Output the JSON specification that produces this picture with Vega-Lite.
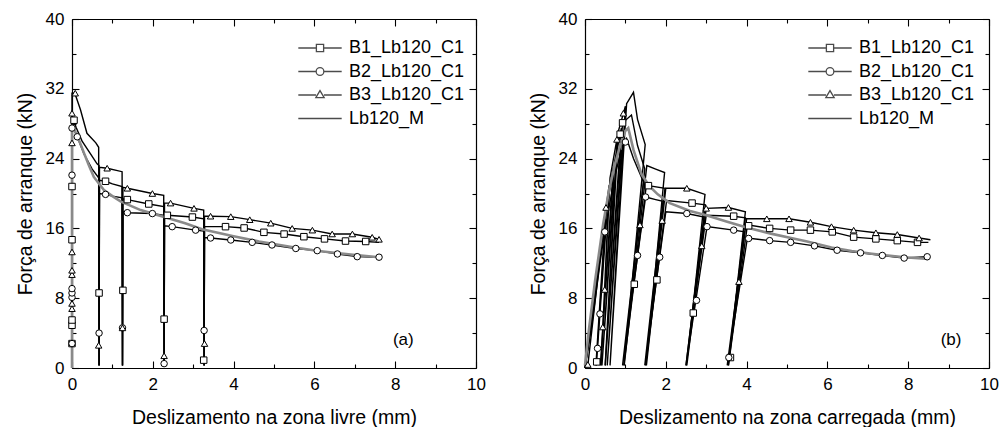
{
  "$schema": "https://vega.github.io/schema/vega-lite/v6.json",
  "background": "white",
  "padding": {"left": 15, "top": 10, "right": 0, "bottom": 0},
  "spacing": 42,
  "config": {
    "font": "Liberation Sans",
    "view": {"stroke": null},
    "axis": {"domainColor": "black", "domainWidth": 1.2, "tickColor": "black", "tickWidth": 1.1, "labelColor": "black", "titleColor": "black", "labelFont": "Liberation Sans", "titleFont": "Liberation Sans", "labelFontSize": 17, "titleFontSize": 19.5, "titleFontWeight": "normal", "grid": false, "labelFlush": false, "labelOverlap": false}
  },
  "datasets": {
    "la": [
      {"k":"B1_Lb120_C1","x":0,"y":0},{"k":"B1_Lb120_C1","x":0,"y":28.8},{"k":"B1_Lb120_C1","x":0.03,"y":28.6},{"k":"B1_Lb120_C1","x":0.1,"y":27.6},{"k":"B1_Lb120_C1","x":0.25,"y":26.0},{"k":"B1_Lb120_C1","x":0.45,"y":24.6},{"k":"B1_Lb120_C1","x":0.62,"y":23.4},{"k":"B1_Lb120_C1","x":0.67,"y":23.2},{"k":"B1_Lb120_C1","x":0.67,"y":0.3},{"k":"B1_Lb120_C1","x":0.68,"y":21.5},{"k":"B1_Lb120_C1","x":0.83,"y":21.4},{"k":"B1_Lb120_C1","x":1.0,"y":21.1},{"k":"B1_Lb120_C1","x":1.24,"y":20.8},{"k":"B1_Lb120_C1","x":1.25,"y":0.3},{"k":"B1_Lb120_C1","x":1.26,"y":19.4},{"k":"B1_Lb120_C1","x":1.37,"y":19.3},{"k":"B1_Lb120_C1","x":1.9,"y":18.8},{"k":"B1_Lb120_C1","x":2.27,"y":18.5},{"k":"B1_Lb120_C1","x":2.28,"y":0.3},{"k":"B1_Lb120_C1","x":2.29,"y":17.6},{"k":"B1_Lb120_C1","x":2.36,"y":17.5},{"k":"B1_Lb120_C1","x":2.98,"y":17.3},{"k":"B1_Lb120_C1","x":3.26,"y":17.1},{"k":"B1_Lb120_C1","x":3.27,"y":0.3},{"k":"B1_Lb120_C1","x":3.28,"y":16.2},{"k":"B1_Lb120_C1","x":3.8,"y":16.2},{"k":"B1_Lb120_C1","x":4.26,"y":16.05},{"k":"B1_Lb120_C1","x":4.75,"y":15.55},{"k":"B1_Lb120_C1","x":5.25,"y":15.35},{"k":"B1_Lb120_C1","x":5.74,"y":15.05},{"k":"B1_Lb120_C1","x":6.25,"y":14.8},{"k":"B1_Lb120_C1","x":6.77,"y":14.55},{"k":"B1_Lb120_C1","x":7.27,"y":14.5},{"k":"B1_Lb120_C1","x":7.6,"y":14.4},
      {"k":"B2_Lb120_C1","x":0,"y":0},{"k":"B2_Lb120_C1","x":0,"y":27.5},{"k":"B2_Lb120_C1","x":0.05,"y":27.3},{"k":"B2_Lb120_C1","x":0.13,"y":26.5},{"k":"B2_Lb120_C1","x":0.3,"y":24.5},{"k":"B2_Lb120_C1","x":0.5,"y":22.8},{"k":"B2_Lb120_C1","x":0.66,"y":21.8},{"k":"B2_Lb120_C1","x":0.67,"y":0.3},{"k":"B2_Lb120_C1","x":0.68,"y":20.0},{"k":"B2_Lb120_C1","x":0.83,"y":19.9},{"k":"B2_Lb120_C1","x":1.0,"y":19.7},{"k":"B2_Lb120_C1","x":1.24,"y":19.5},{"k":"B2_Lb120_C1","x":1.25,"y":0.3},{"k":"B2_Lb120_C1","x":1.26,"y":17.9},{"k":"B2_Lb120_C1","x":1.37,"y":17.8},{"k":"B2_Lb120_C1","x":1.99,"y":17.7},{"k":"B2_Lb120_C1","x":2.27,"y":17.5},{"k":"B2_Lb120_C1","x":2.28,"y":0.3},{"k":"B2_Lb120_C1","x":2.29,"y":16.3},{"k":"B2_Lb120_C1","x":2.48,"y":16.2},{"k":"B2_Lb120_C1","x":3.06,"y":15.8},{"k":"B2_Lb120_C1","x":3.26,"y":15.7},{"k":"B2_Lb120_C1","x":3.27,"y":0.3},{"k":"B2_Lb120_C1","x":3.28,"y":14.95},{"k":"B2_Lb120_C1","x":3.43,"y":14.9},{"k":"B2_Lb120_C1","x":3.93,"y":14.67},{"k":"B2_Lb120_C1","x":4.46,"y":14.4},{"k":"B2_Lb120_C1","x":4.95,"y":14.1},{"k":"B2_Lb120_C1","x":5.54,"y":13.7},{"k":"B2_Lb120_C1","x":6.07,"y":13.45},{"k":"B2_Lb120_C1","x":6.57,"y":13.07},{"k":"B2_Lb120_C1","x":7.06,"y":12.76},{"k":"B2_Lb120_C1","x":7.6,"y":12.7},
      {"k":"B3_Lb120_C1","x":0,"y":0},{"k":"B3_Lb120_C1","x":0,"y":31.5},{"k":"B3_Lb120_C1","x":0.07,"y":31.5},{"k":"B3_Lb120_C1","x":0.21,"y":29.6},{"k":"B3_Lb120_C1","x":0.37,"y":26.9},{"k":"B3_Lb120_C1","x":0.59,"y":25.8},{"k":"B3_Lb120_C1","x":0.66,"y":25.3},{"k":"B3_Lb120_C1","x":0.67,"y":0.3},{"k":"B3_Lb120_C1","x":0.68,"y":23.0},{"k":"B3_Lb120_C1","x":0.87,"y":22.9},{"k":"B3_Lb120_C1","x":1.24,"y":22.5},{"k":"B3_Lb120_C1","x":1.25,"y":0.3},{"k":"B3_Lb120_C1","x":1.26,"y":20.7},{"k":"B3_Lb120_C1","x":1.37,"y":20.6},{"k":"B3_Lb120_C1","x":1.99,"y":20.0},{"k":"B3_Lb120_C1","x":2.27,"y":19.8},{"k":"B3_Lb120_C1","x":2.28,"y":0.3},{"k":"B3_Lb120_C1","x":2.29,"y":18.9},{"k":"B3_Lb120_C1","x":2.44,"y":18.9},{"k":"B3_Lb120_C1","x":3.02,"y":18.3},{"k":"B3_Lb120_C1","x":3.26,"y":18.1},{"k":"B3_Lb120_C1","x":3.27,"y":0.3},{"k":"B3_Lb120_C1","x":3.28,"y":17.4},{"k":"B3_Lb120_C1","x":3.43,"y":17.4},{"k":"B3_Lb120_C1","x":3.93,"y":17.35},{"k":"B3_Lb120_C1","x":4.4,"y":17.0},{"k":"B3_Lb120_C1","x":4.92,"y":16.6},{"k":"B3_Lb120_C1","x":5.45,"y":16.0},{"k":"B3_Lb120_C1","x":5.95,"y":15.8},{"k":"B3_Lb120_C1","x":6.44,"y":15.36},{"k":"B3_Lb120_C1","x":6.94,"y":15.36},{"k":"B3_Lb120_C1","x":7.43,"y":14.98},{"k":"B3_Lb120_C1","x":7.6,"y":14.75},
      {"k":"Lb120_M","x":0,"y":0},{"k":"Lb120_M","x":0,"y":27.8},{"k":"Lb120_M","x":0.09,"y":27.0},{"k":"Lb120_M","x":0.2,"y":25.8},{"k":"Lb120_M","x":0.3,"y":24.6},{"k":"Lb120_M","x":0.42,"y":23.2},{"k":"Lb120_M","x":0.54,"y":21.9},{"k":"Lb120_M","x":0.79,"y":20.4},{"k":"Lb120_M","x":1.0,"y":19.7},{"k":"Lb120_M","x":1.2,"y":19.1},{"k":"Lb120_M","x":1.7,"y":18.1},{"k":"Lb120_M","x":2.28,"y":17.3},{"k":"Lb120_M","x":2.8,"y":16.6},{"k":"Lb120_M","x":3.22,"y":15.9},{"k":"Lb120_M","x":4.0,"y":15.1},{"k":"Lb120_M","x":4.63,"y":14.5},{"k":"Lb120_M","x":5.4,"y":13.9},{"k":"Lb120_M","x":6.1,"y":13.4},{"k":"Lb120_M","x":6.9,"y":13.0},{"k":"Lb120_M","x":7.6,"y":12.7}
    ],
    "ma": [
      {"k":"B1_Lb120_C1","x":0,"y":2.8},{"k":"B1_Lb120_C1","x":0,"y":4.9},{"k":"B1_Lb120_C1","x":0,"y":5.5},{"k":"B1_Lb120_C1","x":0,"y":14.7},{"k":"B1_Lb120_C1","x":0,"y":20.8},{"k":"B1_Lb120_C1","x":0.05,"y":28.4},{"k":"B1_Lb120_C1","x":0.67,"y":8.6},{"k":"B1_Lb120_C1","x":0.83,"y":21.4},{"k":"B1_Lb120_C1","x":1.26,"y":8.9},{"k":"B1_Lb120_C1","x":1.37,"y":19.3},{"k":"B1_Lb120_C1","x":1.9,"y":18.8},{"k":"B1_Lb120_C1","x":2.28,"y":5.6},{"k":"B1_Lb120_C1","x":2.36,"y":17.5},{"k":"B1_Lb120_C1","x":2.98,"y":17.3},{"k":"B1_Lb120_C1","x":3.26,"y":0.9},{"k":"B1_Lb120_C1","x":3.8,"y":16.2},{"k":"B1_Lb120_C1","x":4.26,"y":16.05},{"k":"B1_Lb120_C1","x":4.75,"y":15.55},{"k":"B1_Lb120_C1","x":5.25,"y":15.35},{"k":"B1_Lb120_C1","x":5.74,"y":15.05},{"k":"B1_Lb120_C1","x":6.25,"y":14.8},{"k":"B1_Lb120_C1","x":6.77,"y":14.55},{"k":"B1_Lb120_C1","x":7.27,"y":14.5},
      {"k":"B2_Lb120_C1","x":0,"y":2.8},{"k":"B2_Lb120_C1","x":0,"y":8.1},{"k":"B2_Lb120_C1","x":0,"y":8.6},{"k":"B2_Lb120_C1","x":0,"y":9.1},{"k":"B2_Lb120_C1","x":0,"y":22.1},{"k":"B2_Lb120_C1","x":0,"y":27.5},{"k":"B2_Lb120_C1","x":0.13,"y":26.5},{"k":"B2_Lb120_C1","x":0.67,"y":4.0},{"k":"B2_Lb120_C1","x":0.83,"y":19.9},{"k":"B2_Lb120_C1","x":1.25,"y":4.6},{"k":"B2_Lb120_C1","x":1.37,"y":17.8},{"k":"B2_Lb120_C1","x":1.99,"y":17.7},{"k":"B2_Lb120_C1","x":2.28,"y":0.5},{"k":"B2_Lb120_C1","x":2.48,"y":16.2},{"k":"B2_Lb120_C1","x":3.06,"y":15.8},{"k":"B2_Lb120_C1","x":3.27,"y":4.3},{"k":"B2_Lb120_C1","x":3.43,"y":14.9},{"k":"B2_Lb120_C1","x":3.93,"y":14.67},{"k":"B2_Lb120_C1","x":4.46,"y":14.4},{"k":"B2_Lb120_C1","x":4.95,"y":14.1},{"k":"B2_Lb120_C1","x":5.54,"y":13.7},{"k":"B2_Lb120_C1","x":6.07,"y":13.45},{"k":"B2_Lb120_C1","x":6.57,"y":13.07},{"k":"B2_Lb120_C1","x":7.06,"y":12.76},{"k":"B2_Lb120_C1","x":7.6,"y":12.7},
      {"k":"B3_Lb120_C1","x":0,"y":6.8},{"k":"B3_Lb120_C1","x":0,"y":7.4},{"k":"B3_Lb120_C1","x":0,"y":10.7},{"k":"B3_Lb120_C1","x":0,"y":11.2},{"k":"B3_Lb120_C1","x":0,"y":13.3},{"k":"B3_Lb120_C1","x":0,"y":25.8},{"k":"B3_Lb120_C1","x":0,"y":29.2},{"k":"B3_Lb120_C1","x":0.08,"y":31.5},{"k":"B3_Lb120_C1","x":0.66,"y":2.6},{"k":"B3_Lb120_C1","x":0.87,"y":22.9},{"k":"B3_Lb120_C1","x":1.25,"y":4.6},{"k":"B3_Lb120_C1","x":1.37,"y":20.6},{"k":"B3_Lb120_C1","x":1.99,"y":20.0},{"k":"B3_Lb120_C1","x":2.28,"y":1.4},{"k":"B3_Lb120_C1","x":2.44,"y":18.9},{"k":"B3_Lb120_C1","x":3.02,"y":18.3},{"k":"B3_Lb120_C1","x":3.28,"y":2.8},{"k":"B3_Lb120_C1","x":3.43,"y":17.4},{"k":"B3_Lb120_C1","x":3.93,"y":17.35},{"k":"B3_Lb120_C1","x":4.4,"y":17.0},{"k":"B3_Lb120_C1","x":4.92,"y":16.6},{"k":"B3_Lb120_C1","x":5.45,"y":16.0},{"k":"B3_Lb120_C1","x":5.95,"y":15.8},{"k":"B3_Lb120_C1","x":6.44,"y":15.36},{"k":"B3_Lb120_C1","x":6.94,"y":15.36},{"k":"B3_Lb120_C1","x":7.43,"y":14.98},{"k":"B3_Lb120_C1","x":7.6,"y":14.75}
    ],
    "lb": [
      {"k":"B1_Lb120_C1","x":0,"y":0},{"k":"B1_Lb120_C1","x":0.15,"y":5},{"k":"B1_Lb120_C1","x":0.35,"y":12},{"k":"B1_Lb120_C1","x":0.5,"y":17},{"k":"B1_Lb120_C1","x":0.27,"y":0.3},{"k":"B1_Lb120_C1","x":0.53,"y":18},{"k":"B1_Lb120_C1","x":0.7,"y":23},{"k":"B1_Lb120_C1","x":0.38,"y":0.3},{"k":"B1_Lb120_C1","x":0.73,"y":23.6},{"k":"B1_Lb120_C1","x":0.9,"y":27.5},{"k":"B1_Lb120_C1","x":0.5,"y":0.3},{"k":"B1_Lb120_C1","x":0.93,"y":28.1},{"k":"B1_Lb120_C1","x":1.15,"y":29.0},{"k":"B1_Lb120_C1","x":1.3,"y":25.5},{"k":"B1_Lb120_C1","x":1.48,"y":22.8},{"k":"B1_Lb120_C1","x":0.96,"y":0.3},{"k":"B1_Lb120_C1","x":1.52,"y":21.0},{"k":"B1_Lb120_C1","x":1.57,"y":20.9},{"k":"B1_Lb120_C1","x":1.98,"y":20.6},{"k":"B1_Lb120_C1","x":1.5,"y":0.3},{"k":"B1_Lb120_C1","x":2.02,"y":19.2},{"k":"B1_Lb120_C1","x":2.65,"y":18.9},{"k":"B1_Lb120_C1","x":2.98,"y":18.7},{"k":"B1_Lb120_C1","x":2.5,"y":0.3},{"k":"B1_Lb120_C1","x":3.0,"y":17.5},{"k":"B1_Lb120_C1","x":3.68,"y":17.4},{"k":"B1_Lb120_C1","x":3.97,"y":17.2},{"k":"B1_Lb120_C1","x":3.55,"y":0.3},{"k":"B1_Lb120_C1","x":4.02,"y":16.4},{"k":"B1_Lb120_C1","x":4.57,"y":16.0},{"k":"B1_Lb120_C1","x":5.09,"y":15.8},{"k":"B1_Lb120_C1","x":5.58,"y":15.8},{"k":"B1_Lb120_C1","x":6.12,"y":15.6},{"k":"B1_Lb120_C1","x":6.65,"y":15.0},{"k":"B1_Lb120_C1","x":7.2,"y":14.8},{"k":"B1_Lb120_C1","x":7.73,"y":14.6},{"k":"B1_Lb120_C1","x":8.23,"y":14.4},{"k":"B1_Lb120_C1","x":8.5,"y":14.4},
      {"k":"B2_Lb120_C1","x":0,"y":0},{"k":"B2_Lb120_C1","x":0.17,"y":5},{"k":"B2_Lb120_C1","x":0.37,"y":12},{"k":"B2_Lb120_C1","x":0.5,"y":16},{"k":"B2_Lb120_C1","x":0.28,"y":0.3},{"k":"B2_Lb120_C1","x":0.53,"y":16.8},{"k":"B2_Lb120_C1","x":0.72,"y":21.5},{"k":"B2_Lb120_C1","x":0.42,"y":0.3},{"k":"B2_Lb120_C1","x":0.75,"y":22.2},{"k":"B2_Lb120_C1","x":0.9,"y":25},{"k":"B2_Lb120_C1","x":0.55,"y":0.3},{"k":"B2_Lb120_C1","x":0.93,"y":25.5},{"k":"B2_Lb120_C1","x":1.03,"y":26.3},{"k":"B2_Lb120_C1","x":1.2,"y":24.0},{"k":"B2_Lb120_C1","x":1.45,"y":21.3},{"k":"B2_Lb120_C1","x":0.93,"y":0.3},{"k":"B2_Lb120_C1","x":1.5,"y":19.6},{"k":"B2_Lb120_C1","x":1.75,"y":19.3},{"k":"B2_Lb120_C1","x":1.93,"y":19.1},{"k":"B2_Lb120_C1","x":1.48,"y":0.3},{"k":"B2_Lb120_C1","x":2.0,"y":17.9},{"k":"B2_Lb120_C1","x":2.52,"y":17.7},{"k":"B2_Lb120_C1","x":2.95,"y":17.3},{"k":"B2_Lb120_C1","x":2.5,"y":0.3},{"k":"B2_Lb120_C1","x":3.02,"y":16.2},{"k":"B2_Lb120_C1","x":3.68,"y":15.8},{"k":"B2_Lb120_C1","x":3.95,"y":15.6},{"k":"B2_Lb120_C1","x":3.52,"y":0.3},{"k":"B2_Lb120_C1","x":4.02,"y":14.9},{"k":"B2_Lb120_C1","x":4.57,"y":14.6},{"k":"B2_Lb120_C1","x":5.09,"y":14.4},{"k":"B2_Lb120_C1","x":5.68,"y":14.0},{"k":"B2_Lb120_C1","x":6.24,"y":13.5},{"k":"B2_Lb120_C1","x":6.82,"y":13.2},{"k":"B2_Lb120_C1","x":7.36,"y":12.9},{"k":"B2_Lb120_C1","x":7.9,"y":12.6},{"k":"B2_Lb120_C1","x":8.47,"y":12.75},
      {"k":"B3_Lb120_C1","x":0,"y":0},{"k":"B3_Lb120_C1","x":0.15,"y":5},{"k":"B3_Lb120_C1","x":0.3,"y":10.5},{"k":"B3_Lb120_C1","x":0.45,"y":16},{"k":"B3_Lb120_C1","x":0.07,"y":0.3},{"k":"B3_Lb120_C1","x":0.48,"y":17},{"k":"B3_Lb120_C1","x":0.6,"y":21},{"k":"B3_Lb120_C1","x":0.4,"y":0.3},{"k":"B3_Lb120_C1","x":0.62,"y":21.8},{"k":"B3_Lb120_C1","x":0.8,"y":26.5},{"k":"B3_Lb120_C1","x":0.5,"y":0.3},{"k":"B3_Lb120_C1","x":0.83,"y":27.2},{"k":"B3_Lb120_C1","x":1.0,"y":30.0},{"k":"B3_Lb120_C1","x":0.62,"y":0.3},{"k":"B3_Lb120_C1","x":1.03,"y":30.3},{"k":"B3_Lb120_C1","x":1.2,"y":31.6},{"k":"B3_Lb120_C1","x":1.3,"y":28.5},{"k":"B3_Lb120_C1","x":1.49,"y":25.6},{"k":"B3_Lb120_C1","x":0.97,"y":0.3},{"k":"B3_Lb120_C1","x":1.53,"y":23.2},{"k":"B3_Lb120_C1","x":1.75,"y":22.8},{"k":"B3_Lb120_C1","x":1.97,"y":22.4},{"k":"B3_Lb120_C1","x":1.52,"y":0.3},{"k":"B3_Lb120_C1","x":2.0,"y":20.6},{"k":"B3_Lb120_C1","x":2.52,"y":20.6},{"k":"B3_Lb120_C1","x":2.97,"y":19.9},{"k":"B3_Lb120_C1","x":2.52,"y":0.3},{"k":"B3_Lb120_C1","x":3.0,"y":18.3},{"k":"B3_Lb120_C1","x":3.55,"y":18.4},{"k":"B3_Lb120_C1","x":3.97,"y":17.9},{"k":"B3_Lb120_C1","x":3.55,"y":0.3},{"k":"B3_Lb120_C1","x":4.0,"y":17.1},{"k":"B3_Lb120_C1","x":4.5,"y":17.1},{"k":"B3_Lb120_C1","x":5.05,"y":17.1},{"k":"B3_Lb120_C1","x":5.58,"y":16.7},{"k":"B3_Lb120_C1","x":6.1,"y":16.2},{"k":"B3_Lb120_C1","x":6.65,"y":15.8},{"k":"B3_Lb120_C1","x":7.2,"y":15.5},{"k":"B3_Lb120_C1","x":7.73,"y":15.3},{"k":"B3_Lb120_C1","x":8.27,"y":14.9},{"k":"B3_Lb120_C1","x":8.55,"y":14.7},
      {"k":"Lb120_M","x":0,"y":0.3},{"k":"Lb120_M","x":0.1,"y":4.5},{"k":"Lb120_M","x":0.25,"y":10},{"k":"Lb120_M","x":0.45,"y":16.5},{"k":"Lb120_M","x":0.6,"y":20.5},{"k":"Lb120_M","x":0.75,"y":23.5},{"k":"Lb120_M","x":0.9,"y":26},{"k":"Lb120_M","x":1.0,"y":27.2},{"k":"Lb120_M","x":1.07,"y":27.5},{"k":"Lb120_M","x":1.2,"y":25.0},{"k":"Lb120_M","x":1.4,"y":22.2},{"k":"Lb120_M","x":1.6,"y":20.8},{"k":"Lb120_M","x":1.8,"y":19.9},{"k":"Lb120_M","x":2.1,"y":18.9},{"k":"Lb120_M","x":2.6,"y":18.0},{"k":"Lb120_M","x":3.0,"y":17.5},{"k":"Lb120_M","x":3.5,"y":16.8},{"k":"Lb120_M","x":4.0,"y":16.1},{"k":"Lb120_M","x":4.6,"y":15.4},{"k":"Lb120_M","x":5.1,"y":14.9},{"k":"Lb120_M","x":5.5,"y":14.5},{"k":"Lb120_M","x":6.1,"y":13.8},{"k":"Lb120_M","x":6.6,"y":13.4},{"k":"Lb120_M","x":7.1,"y":13.1},{"k":"Lb120_M","x":7.9,"y":12.7},{"k":"Lb120_M","x":8.5,"y":12.5}
    ],
    "mb": [
      {"k":"B1_Lb120_C1","x":0.29,"y":0.7},{"k":"B1_Lb120_C1","x":0.87,"y":26.8},{"k":"B1_Lb120_C1","x":0.93,"y":28.1},{"k":"B1_Lb120_C1","x":1.22,"y":9.6},{"k":"B1_Lb120_C1","x":1.57,"y":20.9},{"k":"B1_Lb120_C1","x":1.78,"y":10.1},{"k":"B1_Lb120_C1","x":2.65,"y":18.9},{"k":"B1_Lb120_C1","x":2.68,"y":6.3},{"k":"B1_Lb120_C1","x":3.6,"y":1.2},{"k":"B1_Lb120_C1","x":3.68,"y":17.4},{"k":"B1_Lb120_C1","x":4.05,"y":16.3},{"k":"B1_Lb120_C1","x":4.57,"y":16.0},{"k":"B1_Lb120_C1","x":5.09,"y":15.8},{"k":"B1_Lb120_C1","x":5.58,"y":15.8},{"k":"B1_Lb120_C1","x":6.12,"y":15.6},{"k":"B1_Lb120_C1","x":6.65,"y":15.0},{"k":"B1_Lb120_C1","x":7.2,"y":14.8},{"k":"B1_Lb120_C1","x":7.73,"y":14.6},{"k":"B1_Lb120_C1","x":8.23,"y":14.4},
      {"k":"B2_Lb120_C1","x":0.31,"y":2.25},{"k":"B2_Lb120_C1","x":0.37,"y":6.2},{"k":"B2_Lb120_C1","x":0.49,"y":15.6},{"k":"B2_Lb120_C1","x":1.0,"y":25.9},{"k":"B2_Lb120_C1","x":1.3,"y":12.9},{"k":"B2_Lb120_C1","x":1.5,"y":19.6},{"k":"B2_Lb120_C1","x":1.85,"y":12.7},{"k":"B2_Lb120_C1","x":2.52,"y":17.7},{"k":"B2_Lb120_C1","x":2.76,"y":7.75},{"k":"B2_Lb120_C1","x":3.02,"y":16.2},{"k":"B2_Lb120_C1","x":3.56,"y":1.2},{"k":"B2_Lb120_C1","x":3.68,"y":15.8},{"k":"B2_Lb120_C1","x":4.05,"y":14.85},{"k":"B2_Lb120_C1","x":4.57,"y":14.6},{"k":"B2_Lb120_C1","x":5.09,"y":14.4},{"k":"B2_Lb120_C1","x":5.68,"y":14.0},{"k":"B2_Lb120_C1","x":6.24,"y":13.5},{"k":"B2_Lb120_C1","x":6.82,"y":13.2},{"k":"B2_Lb120_C1","x":7.36,"y":12.9},{"k":"B2_Lb120_C1","x":7.9,"y":12.6},{"k":"B2_Lb120_C1","x":8.47,"y":12.75},
      {"k":"B3_Lb120_C1","x":0.07,"y":0.4},{"k":"B3_Lb120_C1","x":0.44,"y":4.7},{"k":"B3_Lb120_C1","x":0.49,"y":9.0},{"k":"B3_Lb120_C1","x":0.52,"y":18.4},{"k":"B3_Lb120_C1","x":0.79,"y":26.2},{"k":"B3_Lb120_C1","x":0.95,"y":29.2},{"k":"B3_Lb120_C1","x":1.36,"y":16.4},{"k":"B3_Lb120_C1","x":1.91,"y":16.9},{"k":"B3_Lb120_C1","x":2.52,"y":20.6},{"k":"B3_Lb120_C1","x":2.89,"y":14.0},{"k":"B3_Lb120_C1","x":3.0,"y":18.3},{"k":"B3_Lb120_C1","x":3.55,"y":18.4},{"k":"B3_Lb120_C1","x":3.81,"y":9.9},{"k":"B3_Lb120_C1","x":4.5,"y":17.1},{"k":"B3_Lb120_C1","x":5.05,"y":17.1},{"k":"B3_Lb120_C1","x":5.58,"y":16.7},{"k":"B3_Lb120_C1","x":6.1,"y":16.2},{"k":"B3_Lb120_C1","x":6.65,"y":15.8},{"k":"B3_Lb120_C1","x":7.2,"y":15.5},{"k":"B3_Lb120_C1","x":7.73,"y":15.3},{"k":"B3_Lb120_C1","x":8.27,"y":14.9}
    ]
  },
  "hconcat": [
    {
      "width": 404, "height": 349,
      "layer": [
        {
          "data": {"name": "la"},
          "transform": [{"window": [{"op": "row_number", "as": "i"}]}, {"filter": "datum.k !== 'Lb120_M'"}],
          "mark": {"type": "line", "color": "black", "strokeWidth": 1.4},
          "encoding": {
            "x": {"field": "x", "type": "quantitative", "scale": {"domain": [0, 10], "nice": false}, "axis": {"orient": "bottom", "values": [0,1,2,3,4,5,6,7,8,9,10], "labelExpr": "datum.value % 2 === 0 ? datum.label : ''", "tickSize": {"condition": {"test": "datum.value % 2 === 0", "value": -7}, "value": -4}, "labelPadding": 15, "title": "Deslizamento na zona livre (mm)", "titlePadding": 13}},
            "y": {"field": "y", "type": "quantitative", "scale": {"domain": [0, 40], "nice": false}, "axis": {"orient": "left", "values": [0,4,8,12,16,20,24,28,32,36,40], "labelExpr": "datum.value % 8 === 0 ? datum.label : ''", "tickSize": {"condition": {"test": "datum.value % 8 === 0", "value": -7}, "value": -4}, "labelPadding": 15, "title": "Força de arranque (kN)", "titlePadding": 10}},
            "detail": {"field": "k"},
            "order": {"field": "i", "type": "quantitative"}
          }
        },
        {
          "data": {"name": "la"},
          "transform": [{"window": [{"op": "row_number", "as": "i"}]}, {"filter": "datum.k === 'Lb120_M'"}],
          "mark": {"type": "line", "color": "#8a8a8a", "strokeWidth": 2.6},
          "encoding": {
            "x": {"field": "x", "type": "quantitative", "axis": null},
            "y": {"field": "y", "type": "quantitative", "axis": null},
            "order": {"field": "i", "type": "quantitative"}
          }
        },
        {
          "data": {"name": "ma"},
          "mark": {"type": "point", "filled": true, "fill": "white", "stroke": "black", "strokeWidth": 1, "size": 42, "opacity": 1},
          "encoding": {
            "x": {"field": "x", "type": "quantitative", "axis": null},
            "y": {"field": "y", "type": "quantitative", "axis": null},
            "shape": {"field": "k", "type": "nominal", "scale": {"domain": ["B1_Lb120_C1", "B2_Lb120_C1", "B3_Lb120_C1"], "range": ["square", "circle", "triangle-up"]}, "legend": null}
          }
        },
        {
          "data": {"values": []},
          "mark": {"type": "point", "filled": false},
          "encoding": {
            "shape": {"field": "k", "type": "nominal",
              "scale": {"domain": ["B1_Lb120_C1", "B2_Lb120_C1", "B3_Lb120_C1", "Lb120_M"], "range": ["M-1.98,0H-0.33M0.33,0H1.98M-0.33,-0.33H0.33V0.33H-0.33Z", "M-1.98,0H-0.35M0.35,0H1.98M0.35,0A0.35,0.35 0 1,1 -0.35,0A0.35,0.35 0 1,1 0.35,0Z", "M-1.98,0H-0.36M0.36,0H1.98M0,-0.4L0.38,0.24L-0.38,0.24Z", "M-1.98,0H1.98"]},
              "legend": {"orient": "none", "legendX": 236, "legendY": 17, "title": null, "labelFontSize": 18, "labelFont": "Liberation Sans", "labelColor": "black", "symbolSize": 480, "labelOffset": 17, "padding": 0, "rowPadding": 2.5, "symbolStrokeWidth": 1.3, "symbolFillColor": "white", "symbolStrokeColor": "black",
                "encode": {"symbols": {"update": {"stroke": {"signal": "datum.value === 'Lb120_M' ? '#8a8a8a' : 'black'"}, "strokeWidth": {"signal": "datum.value === 'Lb120_M' ? 2.6 : 1.3"}, "fill": {"value": "white"}}}}}
            }
          }
        },
        {
          "data": {"values": [{}]},
          "mark": {"type": "text", "fontSize": 17, "font": "Liberation Sans", "color": "black", "align": "center", "baseline": "middle", "text": "(a)"},
          "encoding": {
            "x": {"datum": 8.2, "type": "quantitative", "axis": null},
            "y": {"datum": 3.2, "type": "quantitative", "axis": null}
          }
        },
        {
          "data": {"values": []},
          "mark": {"type": "point", "opacity": 0},
          "encoding": {
            "x": {"field": "x", "type": "quantitative", "scale": {"domain": [0, 10], "nice": false}, "axis": {"orient": "top", "values": [0,1,2,3,4,5,6,7,8,9,10], "labels": false, "tickSize": {"condition": {"test": "datum.value % 2 === 0", "value": -7}, "value": -4}, "title": null}},
            "y": {"field": "y", "type": "quantitative", "scale": {"domain": [0, 40], "nice": false}, "axis": {"orient": "right", "values": [0,4,8,12,16,20,24,28,32,36,40], "labels": false, "tickSize": {"condition": {"test": "datum.value % 8 === 0", "value": -7}, "value": -4}, "title": null}}
          }
        }
      ],
      "resolve": {"scale": {"shape": "independent"}, "axis": {"x": "independent", "y": "independent"}}
    },
    {
      "width": 404, "height": 349,
      "layer": [
        {
          "data": {"name": "lb"},
          "transform": [{"window": [{"op": "row_number", "as": "i"}]}, {"filter": "datum.k !== 'Lb120_M'"}],
          "mark": {"type": "line", "color": "black", "strokeWidth": 1.4},
          "encoding": {
            "x": {"field": "x", "type": "quantitative", "scale": {"domain": [0, 10], "nice": false}, "axis": {"orient": "bottom", "values": [0,1,2,3,4,5,6,7,8,9,10], "labelExpr": "datum.value % 2 === 0 ? datum.label : ''", "tickSize": {"condition": {"test": "datum.value % 2 === 0", "value": -7}, "value": -4}, "labelPadding": 15, "title": "Deslizamento na zona carregada (mm)", "titlePadding": 13}},
            "y": {"field": "y", "type": "quantitative", "scale": {"domain": [0, 40], "nice": false}, "axis": {"orient": "left", "values": [0,4,8,12,16,20,24,28,32,36,40], "labelExpr": "datum.value % 8 === 0 ? datum.label : ''", "tickSize": {"condition": {"test": "datum.value % 8 === 0", "value": -7}, "value": -4}, "labelPadding": 15, "title": "Força de arranque (kN)", "titlePadding": 10}},
            "detail": {"field": "k"},
            "order": {"field": "i", "type": "quantitative"}
          }
        },
        {
          "data": {"name": "lb"},
          "transform": [{"window": [{"op": "row_number", "as": "i"}]}, {"filter": "datum.k === 'Lb120_M'"}],
          "mark": {"type": "line", "color": "#8a8a8a", "strokeWidth": 2.6},
          "encoding": {
            "x": {"field": "x", "type": "quantitative", "axis": null},
            "y": {"field": "y", "type": "quantitative", "axis": null},
            "order": {"field": "i", "type": "quantitative"}
          }
        },
        {
          "data": {"name": "mb"},
          "mark": {"type": "point", "filled": true, "fill": "white", "stroke": "black", "strokeWidth": 1, "size": 42, "opacity": 1},
          "encoding": {
            "x": {"field": "x", "type": "quantitative", "axis": null},
            "y": {"field": "y", "type": "quantitative", "axis": null},
            "shape": {"field": "k", "type": "nominal", "scale": {"domain": ["B1_Lb120_C1", "B2_Lb120_C1", "B3_Lb120_C1"], "range": ["square", "circle", "triangle-up"]}, "legend": null}
          }
        },
        {
          "data": {"values": []},
          "mark": {"type": "point", "filled": false},
          "encoding": {
            "shape": {"field": "k", "type": "nominal",
              "scale": {"domain": ["B1_Lb120_C1", "B2_Lb120_C1", "B3_Lb120_C1", "Lb120_M"], "range": ["M-1.98,0H-0.33M0.33,0H1.98M-0.33,-0.33H0.33V0.33H-0.33Z", "M-1.98,0H-0.35M0.35,0H1.98M0.35,0A0.35,0.35 0 1,1 -0.35,0A0.35,0.35 0 1,1 0.35,0Z", "M-1.98,0H-0.36M0.36,0H1.98M0,-0.4L0.38,0.24L-0.38,0.24Z", "M-1.98,0H1.98"]},
              "legend": {"orient": "none", "legendX": 233, "legendY": 17, "title": null, "labelFontSize": 18, "labelFont": "Liberation Sans", "labelColor": "black", "symbolSize": 480, "labelOffset": 17, "padding": 0, "rowPadding": 2.5, "symbolStrokeWidth": 1.3, "symbolFillColor": "white", "symbolStrokeColor": "black",
                "encode": {"symbols": {"update": {"stroke": {"signal": "datum.value === 'Lb120_M' ? '#8a8a8a' : 'black'"}, "strokeWidth": {"signal": "datum.value === 'Lb120_M' ? 2.6 : 1.3"}, "fill": {"value": "white"}}}}}
            }
          }
        },
        {
          "data": {"values": [{}]},
          "mark": {"type": "text", "fontSize": 17, "font": "Liberation Sans", "color": "black", "align": "center", "baseline": "middle", "text": "(b)"},
          "encoding": {
            "x": {"datum": 9.06, "type": "quantitative", "axis": null},
            "y": {"datum": 3.2, "type": "quantitative", "axis": null}
          }
        },
        {
          "data": {"values": []},
          "mark": {"type": "point", "opacity": 0},
          "encoding": {
            "x": {"field": "x", "type": "quantitative", "scale": {"domain": [0, 10], "nice": false}, "axis": {"orient": "top", "values": [0,1,2,3,4,5,6,7,8,9,10], "labels": false, "tickSize": {"condition": {"test": "datum.value % 2 === 0", "value": -7}, "value": -4}, "title": null}},
            "y": {"field": "y", "type": "quantitative", "scale": {"domain": [0, 40], "nice": false}, "axis": {"orient": "right", "values": [0,4,8,12,16,20,24,28,32,36,40], "labels": false, "tickSize": {"condition": {"test": "datum.value % 8 === 0", "value": -7}, "value": -4}, "title": null}}
          }
        }
      ],
      "resolve": {"scale": {"shape": "independent"}, "axis": {"x": "independent", "y": "independent"}}
    }
  ]
}
